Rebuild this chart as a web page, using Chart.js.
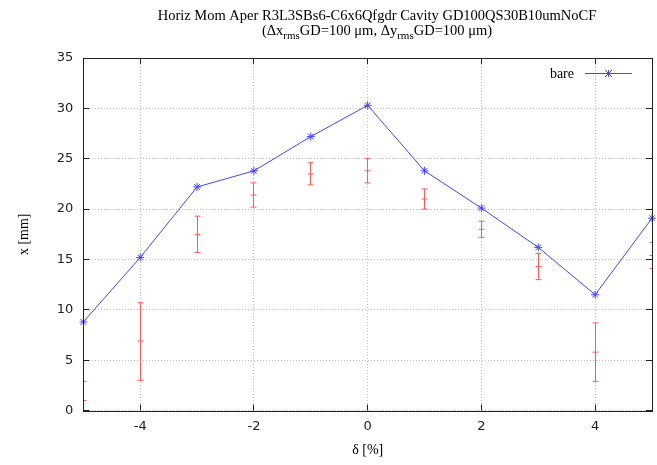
<!DOCTYPE html>
<html>
<head>
<meta charset="utf-8">
<script src="https://cdn.jsdelivr.net/npm/chart.js@4.4.1/dist/chart.umd.min.js"></script>
<style>
  html, body { margin: 0; padding: 0; background: #fff; }
  #wrap { width: 657px; height: 465px; }
</style>
</head>
<body>
<div id="wrap"><canvas id="chart" width="657" height="465"></canvas></div>
<script>
// delta [%] positions
const deltas = [-5, -4, -3, -2, -1, 0, 1, 2, 3, 4, 5];

// bare lattice aperture
const bareValues = [8.8, 15.2, 22.2, 23.8, 27.2, 30.3, 23.8, 20.1, 16.2, 11.5, 19.1];

// with errors: mean and low / high
const errMean = [1.0, 6.9, 17.5, 21.4, 23.5, 23.8, 21.0, 18.0, 14.3, 5.8, 15.4];
const errLow  = [-0.9, 3.0, 15.7, 20.2, 22.4, 22.6, 20.0, 17.2, 13.0, 2.9, 14.1];
const errHigh = [2.9, 10.7, 19.3, 22.6, 24.6, 25.0, 22.0, 18.8, 15.6, 8.7, 16.7];

const xTicks = [-4, -2, 0, 2, 4];
const yTicks = [0, 5, 10, 15, 20, 25, 30, 35];

const blue = 'rgb(70, 70, 255)';
const red = 'rgb(255, 90, 90)';
const serif = '"Liberation Serif", "DejaVu Serif", serif';
const sans = '"DejaVu Sans", "Liberation Sans", sans-serif';

// same rounding the library uses for 1px grid lines
const align = p => Math.round(p + 0.5) - 0.5;

// title with subscripts, frame, inner ticks, legend, error bars
const gnuplotLook = {
    id: 'gnuplotLook',
    afterDraw(chart) {
        const ctx = chart.ctx;
        const area = chart.chartArea;
        const xs = chart.scales.x;
        const ys = chart.scales.y;

        ctx.save();

        // error bars
        ctx.beginPath();
        ctx.rect(area.left, area.top - 1, area.right - area.left, area.bottom - area.top + 2);
        ctx.clip();
        ctx.strokeStyle = red;
        ctx.lineWidth = 1;
        deltas.forEach((d, i) => {
            const px = align(xs.getPixelForValue(d));
            const yl = ys.getPixelForValue(errLow[i]);
            const yh = ys.getPixelForValue(errHigh[i]);
            const ym = ys.getPixelForValue(errMean[i]);
            ctx.beginPath();
            ctx.moveTo(px, yl); ctx.lineTo(px, yh);
            ctx.moveTo(px - 3, yl); ctx.lineTo(px + 3, yl);
            ctx.moveTo(px - 3, yh); ctx.lineTo(px + 3, yh);
            ctx.moveTo(px - 3, ym); ctx.lineTo(px + 3, ym);
            ctx.stroke();
        });
        ctx.restore();

        ctx.save();
        // frame
        ctx.strokeStyle = '#222';
        ctx.lineWidth = 1;
        ctx.strokeRect(align(area.left), align(area.top),
            Math.round(area.right - area.left), Math.round(area.bottom - area.top));

        // inner ticks on all sides
        ctx.beginPath();
        xTicks.forEach(v => {
            const px = align(xs.getPixelForValue(v));
            ctx.moveTo(px, area.bottom); ctx.lineTo(px, area.bottom - 6);
            ctx.moveTo(px, area.top); ctx.lineTo(px, area.top + 6);
        });
        yTicks.forEach(v => {
            const py = align(ys.getPixelForValue(v));
            ctx.moveTo(area.left, py); ctx.lineTo(area.left + 6, py);
            ctx.moveTo(area.right, py); ctx.lineTo(area.right - 6, py);
        });
        ctx.stroke();

        // title
        const cx = 377;
        ctx.fillStyle = '#000';
        ctx.textBaseline = 'alphabetic';
        ctx.font = '14.5px ' + serif;
        ctx.textAlign = 'center';
        ctx.fillText('Horiz Mom Aper R3L3SBs6-C6x6Qfgdr Cavity GD100QS30B10umNoCF', cx, 20);

        const parts = [
            ['(\u0394x', false], ['rms', true], ['GD=100 \u03bcm, \u0394y', false],
            ['rms', true], ['GD=100 \u03bcm)', false]
        ];
        const mainFont = '14.5px ' + serif;
        const subFont = '11px ' + serif;
        let total = 0;
        parts.forEach(p => {
            ctx.font = p[1] ? subFont : mainFont;
            total += ctx.measureText(p[0]).width;
        });
        let x0 = cx - total / 2;
        ctx.textAlign = 'left';
        parts.forEach(p => {
            ctx.font = p[1] ? subFont : mainFont;
            ctx.fillText(p[0], x0, p[1] ? 39 : 35);
            x0 += ctx.measureText(p[0]).width;
        });

        // legend
        ctx.font = '14px ' + serif;
        ctx.textAlign = 'right';
        ctx.fillText(chart.data.datasets[0].label, 574, 78);
        ctx.strokeStyle = blue;
        ctx.beginPath();
        ctx.moveTo(585, 73.5); ctx.lineTo(632, 73.5);
        ctx.stroke();
        ctx.beginPath();
        const sx = 608.5, sy = 73.5, r = 3.5;
        ctx.moveTo(sx - r, sy); ctx.lineTo(sx + r, sy);
        ctx.moveTo(sx, sy - r); ctx.lineTo(sx, sy + r);
        ctx.moveTo(sx - r, sy - r); ctx.lineTo(sx + r, sy + r);
        ctx.moveTo(sx - r, sy + r); ctx.lineTo(sx + r, sy - r);
        ctx.stroke();

        ctx.restore();
    }
};

new Chart(document.getElementById('chart'), {
    type: 'line',
    data: {
        datasets: [{
            label: 'bare',
            data: deltas.map((d, i) => ({ x: d, y: bareValues[i] })),
            borderColor: blue,
            backgroundColor: blue,
            borderWidth: 1,
            pointStyle: 'star',
            pointRadius: 4,
            pointBorderWidth: 1,
            pointBorderColor: blue,
            tension: 0,
            clip: 4
        }]
    },
    options: {
        responsive: false,
        animation: false,
        layout: { padding: { top: 58, right: 2, left: 16, bottom: 4 } },
        plugins: {
            legend: { display: false },
            title: { display: false },
            tooltip: { enabled: false }
        },
        scales: {
            x: {
                type: 'linear',
                min: -5,
                max: 5,
                afterBuildTicks: (axis) => { axis.ticks = xTicks.map(v => ({ value: v })); },
                grid: { color: '#bdbdbd', drawTicks: false, lineWidth: 1 },
                border: { display: false, dash: [1, 2] },
                ticks: { color: '#222', font: { family: sans, size: 13 }, padding: 8 },
                title: { display: true, text: '\u03b4 [%]', color: '#000', font: { family: serif, size: 14 }, padding: { top: 0, bottom: 2 } }
            },
            y: {
                min: 0,
                max: 35,
                afterBuildTicks: (axis) => { axis.ticks = yTicks.map(v => ({ value: v })); },
                grid: { color: '#bdbdbd', drawTicks: false, lineWidth: 1 },
                border: { display: false, dash: [1, 2] },
                ticks: { color: '#222', font: { family: sans, size: 13 }, padding: 10 },
                title: { display: true, text: 'x [mm]', color: '#000', font: { family: serif, size: 14 }, padding: { top: 0, bottom: 14 } }
            }
        }
    },
    plugins: [gnuplotLook]
});
</script>
</body>
</html>
